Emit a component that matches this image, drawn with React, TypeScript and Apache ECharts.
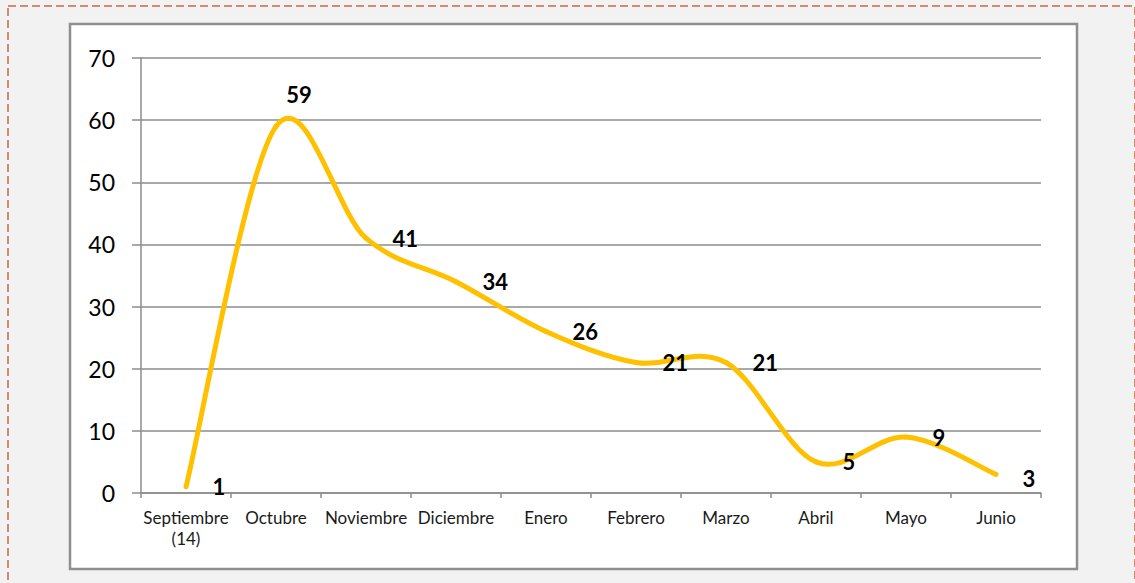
import React, { useEffect, useRef } from "react";
import * as echarts from "echarts";

const categories = [
  "Septiembre\n(14)",
  "Octubre",
  "Noviembre",
  "Diciembre",
  "Enero",
  "Febrero",
  "Marzo",
  "Abril",
  "Mayo",
  "Junio",
];
const values = [1, 59, 41, 34, 26, 21, 21, 5, 9, 3];
const yTicks = { min: 0, max: 70, interval: 10 };

export default function App() {
  const ref = useRef<HTMLDivElement>(null);
  useEffect(() => {
    document.body.style.margin = "0";
    const chart = echarts.init(ref.current!, null, { renderer: "svg" });
    const font = "Lato, 'Open Sans', sans-serif";
    const n = values.length;
    const labelData = values.map((v, i) => {
      const item: any = { value: [i, v] };
      if (i === 1) {
        item.label = { position: "top", distance: 20, offset: [23, 0] };
      } else if (i === 9) {
        item.label = { offset: [0, 4] };
      }
      return item;
    });
    chart.setOption({
      animation: false,
      backgroundColor: "#f2f2f2",
      graphic: [
        {
          type: "rect",
          shape: { x: 8, y: 6, width: 1127, height: 600 },
          style: { fill: "none", stroke: "#d48a70", lineWidth: 2, lineDash: [8, 4] },
          silent: true,
          z: -10,
        },
        {
          type: "rect",
          shape: { x: 70, y: 24, width: 1007, height: 545 },
          style: { fill: "#ffffff", stroke: "#8f8f8f", lineWidth: 2.5 },
          silent: true,
          z: -9,
        },
      ],
      grid: { left: 141, top: 58, width: 900, height: 435, containLabel: false },
      xAxis: {
        type: "category",
        data: categories,
        boundaryGap: true,
        axisLine: { lineStyle: { color: "#8c8c8c", width: 1.5 } },
        axisTick: { show: true, length: 5, lineStyle: { color: "#8c8c8c", width: 1.5 } },
        axisLabel: {
          color: "#1a1a1a",
          fontFamily: font,
          fontSize: 17,
          lineHeight: 21,
          margin: 14,
          interval: 0,
        },
      },
      yAxis: {
        type: "value",
        min: yTicks.min,
        max: yTicks.max,
        interval: yTicks.interval,
        axisLine: { show: true, lineStyle: { color: "#8c8c8c", width: 1.5 } },
        axisTick: { show: true, length: 9, lineStyle: { color: "#8c8c8c", width: 1.5 } },
        splitLine: { lineStyle: { color: "#8c8c8c", width: 1.5 } },
        axisLabel: { color: "#000", fontFamily: font, fontSize: 23, margin: 26 },
      },
      series: [
        {
          type: "custom",
          z: 2,
          data: values.map((v, i) => [i, v]),
          renderItem: (params: any, api: any) => {
            const i = params.dataIndex;
            if (i >= n - 1) return null;
            const c = (j: number) => {
              const k = Math.max(0, Math.min(n - 1, j));
              return api.coord([k, values[k]]);
            };
            const p0 = c(i - 1);
            const p1 = c(i);
            const p2 = c(i + 1);
            const p3 = c(i + 2);
            const cp1 = [p1[0] + (p2[0] - p0[0]) / 6, p1[1] + (p2[1] - p0[1]) / 6];
            const cp2 = [p2[0] - (p3[0] - p1[0]) / 6, p2[1] - (p3[1] - p1[1]) / 6];
            return {
              type: "bezierCurve",
              shape: {
                x1: p1[0],
                y1: p1[1],
                cpx1: cp1[0],
                cpy1: cp1[1],
                cpx2: cp2[0],
                cpy2: cp2[1],
                x2: p2[0],
                y2: p2[1],
              },
              style: { fill: "none", stroke: "#FFC000", lineWidth: 5, lineCap: "round" },
            };
          },
        },
        {
          type: "scatter",
          data: labelData,
          symbol: "circle",
          symbolSize: 1,
          itemStyle: { color: "rgba(0,0,0,0)", opacity: 1 },
          z: 10,
          zlevel: 1,
          label: {
            show: true,
            position: "right",
            distance: 26,
            formatter: (p: any) => String(p.value[1]),
            color: "#000000",
            opacity: 1,
            fontFamily: font,
            fontWeight: "bold",
            fontSize: 22,
          },
        },
      ],
    });
    return () => chart.dispose();
  }, []);
  return <div ref={ref} style={{ width: 1135, height: 583 }} />;
}
